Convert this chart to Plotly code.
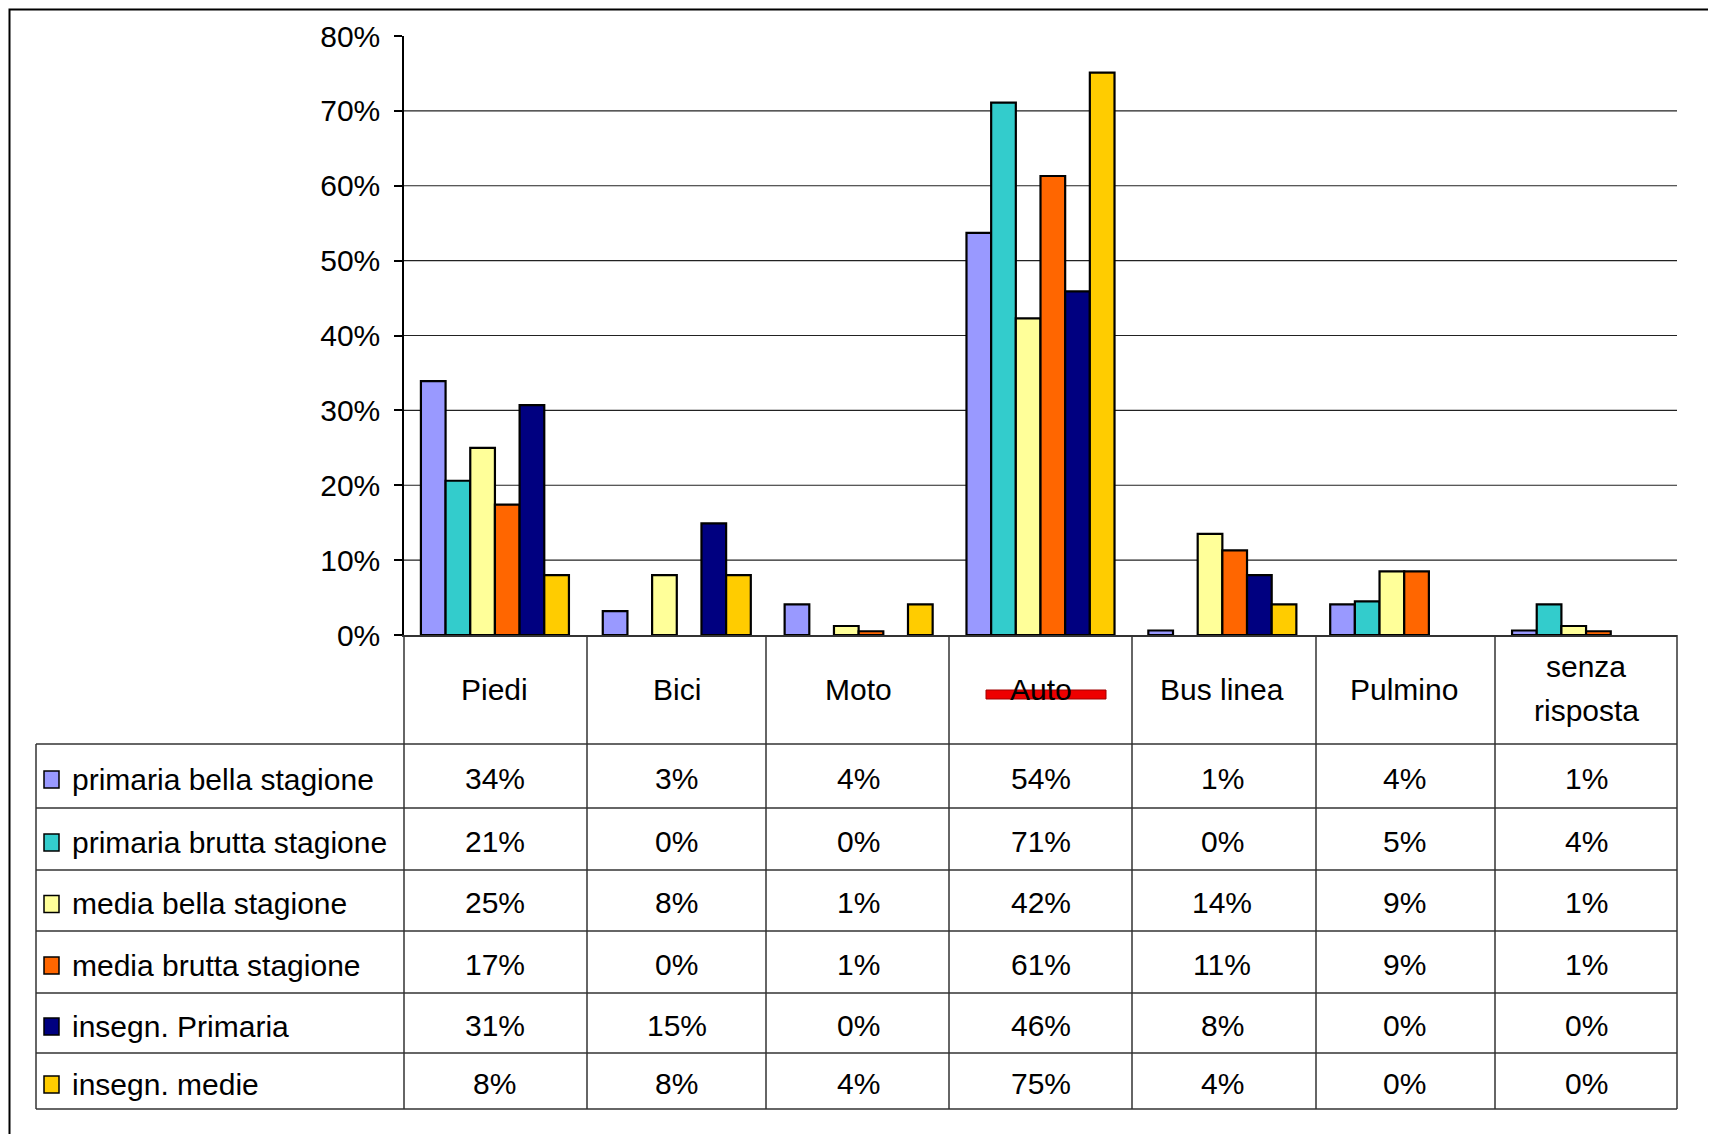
import math
import plotly.graph_objects as go

W, H = 1716, 1134
OFF = 8  # page body margin offset

categories = ["Piedi", "Bici", "Moto", "Auto", "Bus linea", "Pulmino", "senza risposta"]
header_labels = ["Piedi", "Bici", "Moto", "Auto", "Bus linea", "Pulmino", "senza<br>risposta"]

series_names = [
    "primaria bella stagione",
    "primaria brutta stagione",
    "media bella stagione",
    "media brutta stagione",
    "insegn. Primaria",
    "insegn. medie",
]
primaria_bella = [33.9, 3.2, 4.1, 53.7, 0.6, 4.1, 0.6]
primaria_brutta = [20.6, 0.0, 0.0, 71.1, 0.0, 4.5, 4.1]
media_bella = [25.0, 8.0, 1.2, 42.3, 13.5, 8.5, 1.2]
media_brutta = [17.4, 0.0, 0.5, 61.3, 11.3, 8.5, 0.5]
insegn_primaria = [30.7, 14.9, 0.0, 45.9, 8.0, 0.0, 0.0]
insegn_medie = [8.0, 8.0, 4.1, 75.1, 4.1, 0.0, 0.0]
series_values = [primaria_bella, primaria_brutta, media_bella, media_brutta, insegn_primaria, insegn_medie]
colors = ["#9999FF", "#33CCCC", "#FFFF99", "#FF6600", "#000080", "#FFCC00"]

y_ticks = [0, 10, 20, 30, 40, 50, 60, 70, 80]
grid_levels = [10, 20, 30, 40, 50, 60, 70]

FONT = "Liberation Sans, Arial, sans-serif"
FS = 30


def px(x):
    return (x - OFF) / W


def py(y):
    return 1 - (y - OFF) / H


# layout geometry (screen pixels)
PLOT_L, PLOT_R = 404, 1677
PLOT_T, PLOT_B = 36, 635
ROW_BOUNDS = [744, 808, 870, 931, 993, 1053, 1109]
TABLE_L = 36
COL_BOUNDS = [404, 587, 766, 949, 1132, 1316, 1495, 1677]

fig = go.Figure()
for name, vals, col in zip(series_names, series_values, colors):
    fig.add_trace(go.Bar(
        x=categories, y=[v if v > 0 else None for v in vals], name=name,
        marker=dict(color=col, line=dict(color="black", width=2.2)),
        showlegend=False, hoverinfo="skip",
    ))

shapes = []
for g in grid_levels:
    shapes.append(dict(type="line", xref="x domain", yref="y", x0=0, x1=1, y0=g, y1=g,
                       line=dict(color="#222222", width=1.2), layer="below"))

line_style = dict(color="#333333", width=1.5)
for xb in COL_BOUNDS:
    shapes.append(dict(type="line", xref="paper", yref="paper", x0=px(xb), x1=px(xb),
                       y0=py(PLOT_B), y1=py(ROW_BOUNDS[-1]), line=line_style))
shapes.append(dict(type="line", xref="paper", yref="paper", x0=px(TABLE_L), x1=px(TABLE_L),
                   y0=py(ROW_BOUNDS[0]), y1=py(ROW_BOUNDS[-1]), line=line_style))
for yb in ROW_BOUNDS:
    shapes.append(dict(type="line", xref="paper", yref="paper", x0=px(TABLE_L), x1=px(PLOT_R),
                       y0=py(yb), y1=py(yb), line=line_style))

annotations = []
HEADER_C = 689
LINE_GAP = 44
for cat, lab in zip(categories, header_labels):
    parts = lab.split("<br>")
    n = len(parts)
    for k, part in enumerate(parts):
        yline = HEADER_C + (k - (n - 1) / 2) * LINE_GAP - (1 if n > 1 else 0)
        annotations.append(dict(x=cat, y=py(yline), xref="x", yref="paper", text=part,
                                showarrow=False, font=dict(family=FONT, size=FS, color="black"),
                                xanchor="center", yanchor="middle", align="center"))

for r, (name, vals, col) in enumerate(zip(series_names, series_values, colors)):
    top, bot = ROW_BOUNDS[r], ROW_BOUNDS[r + 1]
    yc = (top + bot) / 2 + 3
    shapes.append(dict(type="rect", xref="paper", yref="paper", x0=px(44), x1=px(59),
                       y0=py(yc + 9), y1=py(yc - 8), fillcolor=col,
                       line=dict(color="black", width=1.5)))
    annotations.append(dict(x=px(70), y=py(yc), xref="paper", yref="paper", text=name,
                            showarrow=False, xanchor="left", yanchor="middle",
                            font=dict(family=FONT, size=FS, color="black")))
    for cat, v in zip(categories, vals):
        annotations.append(dict(x=cat, y=py(yc - 1), xref="x", yref="paper",
                                text=f"{math.floor(v + 0.5)}%", showarrow=False,
                                xanchor="center", yanchor="middle",
                                font=dict(family=FONT, size=FS, color="black")))

# red strike mark over "Auto"
shapes.append(dict(type="rect", xref="paper", yref="paper", x0=px(986), x1=px(1106),
                   y0=py(699), y1=py(690), fillcolor="#EE0000",
                   line=dict(color="#A00000", width=1)))

# outer frame (bottom edge falls outside the picture)
shapes.append(dict(type="rect", xref="paper", yref="paper", x0=px(9.5), x1=px(1712),
                   y0=py(1175), y1=py(9.5), line=dict(color="black", width=2)))

fig.update_layout(
    width=W, height=H,
    margin=dict(l=0, r=0, t=0, b=0, pad=0),
    paper_bgcolor="white", plot_bgcolor="white",
    barmode="group", bargap=0.186, bargroupgap=0,
    shapes=shapes, annotations=annotations,
    font=dict(family=FONT, size=FS, color="black"),
    xaxis=dict(domain=[px(PLOT_L), px(PLOT_R)], type="category", range=[-0.5, 6.5],
               showticklabels=False, showline=True, linecolor="#333333", linewidth=1.5,
               ticks="", showgrid=False, zeroline=False, fixedrange=True, automargin=False),
    yaxis=dict(domain=[py(PLOT_B), py(PLOT_T)], range=[0, 80], tickvals=y_ticks,
               ticktext=[f"{t}%" for t in y_ticks], ticks="outside", ticklen=8,
               tickcolor="black", tickwidth=1.5, showline=True, linecolor="black",
               linewidth=1.5, showgrid=False, zeroline=False, ticklabelstandoff=8,
               tickfont=dict(family=FONT, size=FS, color="black"), fixedrange=True,
               automargin=False),
)

fig.write_html("out.html")
